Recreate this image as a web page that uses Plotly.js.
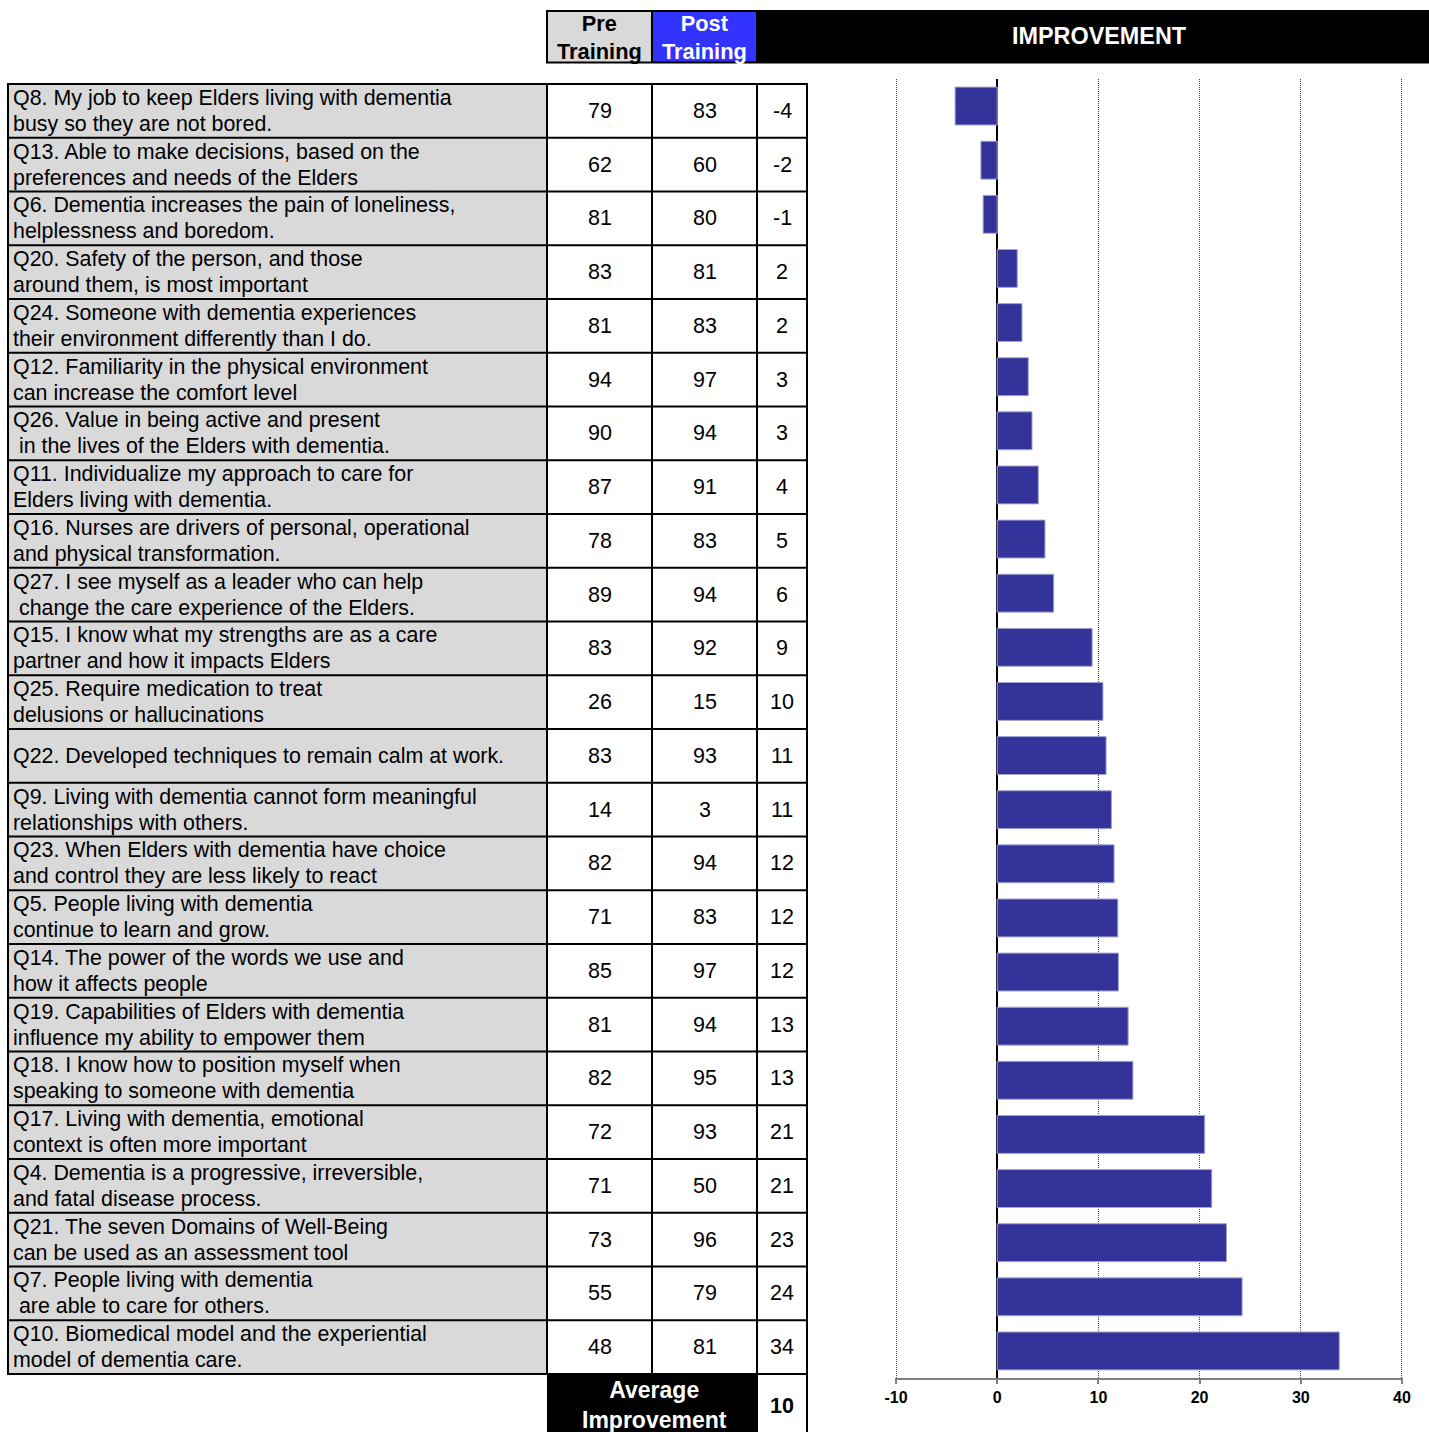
<!DOCTYPE html>
<html>
<head>
<meta charset="utf-8">
<script src="https://cdn.plot.ly/plotly-3.0.1.min.js"></script>
<style>
  html, body { margin: 0; padding: 0; background: #ffffff; }
  #chart { width: 1429px; height: 1432px; }
</style>
</head>
<body>
<div id="chart"></div>
<script>
// Survey items, top to bottom (two lines each where the text wraps)
const questions = [
  ["Q8. My job to keep Elders living with dementia", "busy so they are not bored."],
  ["Q13. Able to make decisions, based on the", "preferences and needs of the Elders"],
  ["Q6. Dementia increases the pain of loneliness,", "helplessness and boredom."],
  ["Q20. Safety of the person, and those", "around them, is most important"],
  ["Q24. Someone with dementia experiences", "their environment differently than I do."],
  ["Q12. Familiarity in the physical environment", "can increase the comfort level"],
  ["Q26. Value in being active and present", "\u00a0in the lives of the Elders with dementia."],
  ["Q11. Individualize my approach to care for", "Elders living with dementia."],
  ["Q16. Nurses are drivers of personal, operational", "and physical transformation."],
  ["Q27. I see myself as a leader who can help", "\u00a0change the care experience of the Elders."],
  ["Q15. I know what my strengths are as a care", "partner and how it impacts Elders"],
  ["Q25. Require medication to treat", "delusions or hallucinations"],
  ["Q22. Developed techniques to remain calm at work."],
  ["Q9. Living with dementia cannot form meaningful", "relationships with others."],
  ["Q23. When Elders with dementia have choice", "and control they are less likely to react"],
  ["Q5. People living with dementia", "continue to learn and grow."],
  ["Q14. The power of the words we use and", "how it affects people"],
  ["Q19. Capabilities of Elders with dementia", "influence my ability to empower them"],
  ["Q18. I know how to position myself when", "speaking to someone with dementia"],
  ["Q17. Living with dementia, emotional", "context is often more important"],
  ["Q4. Dementia is a progressive, irreversible,", "and fatal disease process."],
  ["Q21. The seven Domains of Well-Being", "can be used as an assessment tool"],
  ["Q7. People living with dementia", "\u00a0are able to care for others."],
  ["Q10. Biomedical model and the experiential", "model of dementia care."]
];

// Percent scores before and after training
const preTraining  = [79, 62, 81, 83, 81, 94, 90, 87, 78, 89, 83, 26, 83, 14, 82, 71, 85, 81, 82, 72, 71, 73, 55, 48];
const postTraining = [83, 60, 80, 81, 83, 97, 94, 91, 83, 94, 92, 15, 93,  3, 94, 83, 97, 94, 95, 93, 50, 96, 79, 81];

// Improvement per item (unrounded); the table shows the rounded figure
const improvement = [-4.16, -1.61, -1.39, 1.98, 2.45, 3.07, 3.44, 4.06, 4.72, 5.58,
                     9.38, 10.45, 10.76, 11.29, 11.55, 11.92, 11.98, 12.94, 13.41,
                     20.5, 21.2, 22.66, 24.2, 33.8];

const xTicks = [-10, 0, 10, 20, 30, 40];

// ---- layout helpers (pixel -> paper coordinates) ----
const W = 1429, H = 1432;
const px = x => x / W;
const py = y => 1 - y / H;
const FONT = "Liberation Sans, Arial, sans-serif";

const itemIds = questions.map(q => q[0].split(".")[0]);

const shapes = [];
const annotations = [];

function rect(x0, y0, x1, y1, fill, lineColor, lineWidth) {
  shapes.push({
    type: "rect", xref: "paper", yref: "paper", layer: "above",
    x0: px(x0), x1: px(x1), y0: py(y0), y1: py(y1),
    fillcolor: fill,
    line: { color: lineColor || "rgba(0,0,0,0)", width: lineWidth || 0 }
  });
}
function line(x0, y0, x1, y1, color, width) {
  shapes.push({
    type: "line", xref: "paper", yref: "paper", layer: "above",
    x0: px(x0), x1: px(x1), y0: py(y0), y1: py(y1),
    line: { color: color, width: width }
  });
}
function label(text, x, y, opts) {
  annotations.push(Object.assign({
    text: text, xref: "paper", yref: "paper",
    x: px(x), y: py(y), showarrow: false,
    xanchor: "center", yanchor: "middle", align: "center",
    font: { family: FONT, size: 21.5, color: "#000000" }
  }, opts || {}));
}

// ---- header ----
rect(546, 10, 1429, 63.5, "#000000");
rect(548, 12, 651, 61.5, "#D9D9D9");
rect(653, 12, 756, 61.5, "#3333FF");
label("<b>Pre</b><br><b>Training</b>", 599.5, 37.5, { font: { family: FONT, size: 21.8, color: "#000000" } });
label("<b>Post</b><br><b>Training</b>", 704.5, 37.5, { font: { family: FONT, size: 21.8, color: "#FFFFFF" } });
label("<b>IMPROVEMENT</b>", 1099, 36, { font: { family: FONT, size: 23.4, color: "#FFFFFF" } });

// ---- table body ----
const colEdges = [8, 547, 652, 757, 807];
const rowTop = 84, rowBottom = 1374;
const rowH = (rowBottom - rowTop) / questions.length;
const lineGap = 26;   // distance between the two wrapped lines of a question

rect(colEdges[0], rowTop, colEdges[1], rowBottom, "#D9D9D9");
for (let i = 0; i <= questions.length; i++) {
  const y = rowTop + i * rowH;
  line(colEdges[0] - 1, y, colEdges[4] + 1, y, "#000000", 2);
}
colEdges.forEach(x => line(x, rowTop - 1, x, rowBottom + 1, "#000000", 2));

const qFont = { family: FONT, size: 21.4, color: "#000000" };
questions.forEach((q, i) => {
  const yc = rowTop + (i + 0.5) * rowH;
  const first = yc - (q.length - 1) * lineGap / 2;
  q.forEach((txt, k) => {
    label(txt, 10.5, first + k * lineGap, { xanchor: "left", align: "left", font: qFont });
  });
  label(String(preTraining[i]), 600, yc);
  label(String(postTraining[i]), 705, yc);
  label(String(Math.round(improvement[i])), 782, yc);
});

// ---- average row ----
const avgImprovement = improvement.reduce((a, b) => a + b, 0) / improvement.length;
rect(547, rowBottom, 757, H + 2, "#000000");
line(757, rowBottom, 757, H + 2, "#000000", 2);
line(807, rowBottom, 807, H + 2, "#000000", 2);
label("<b>Average</b><br><b>Improvement</b>", 654, 1405,
      { font: { family: FONT, size: 23, color: "#FFFFFF" } });
label("<b>" + Math.round(avgImprovement) + "</b>", 782, 1406,
      { font: { family: FONT, size: 21.5, color: "#000000" } });

// ---- improvement bars ----
const bars = {
  type: "bar",
  orientation: "h",
  x: improvement,
  y: itemIds,
  width: 0.7,
  marker: { color: "#333399", line: { color: "#A3A3D6", width: 1 } },
  hoverinfo: "x+y"
};

const layout = {
  width: W, height: H,
  margin: { l: 0, r: 0, t: 0, b: 0 },
  paper_bgcolor: "#FFFFFF",
  plot_bgcolor: "#FFFFFF",
  showlegend: false,
  font: { family: FONT },
  xaxis: {
    domain: [px(895), px(1403)],
    range: [-10.1, 40.1],
    tickvals: xTicks,
    ticktext: xTicks.map(v => "<b>" + v + "</b>"),
    tickfont: { family: FONT, size: 16, color: "#000000" },
    showgrid: true, gridcolor: "#444444", gridwidth: 1, griddash: "1px,1px",
    zeroline: true, zerolinecolor: "#000000", zerolinewidth: 2,
    showline: true, linecolor: "#808080", linewidth: 2,
    ticks: "outside", ticklen: 4, tickcolor: "#808080", tickwidth: 2,
    fixedrange: true
  },
  yaxis: {
    domain: [py(1378), py(79)],
    type: "category",
    categoryorder: "array",
    categoryarray: itemIds,
    range: [itemIds.length - 0.5, -0.5],
    showticklabels: false, showgrid: false, zeroline: false, ticks: "",
    fixedrange: true
  },
  shapes: shapes,
  annotations: annotations
};

Plotly.newPlot("chart", [bars], layout, { displayModeBar: false, staticPlot: true });
</script>
</body>
</html>
